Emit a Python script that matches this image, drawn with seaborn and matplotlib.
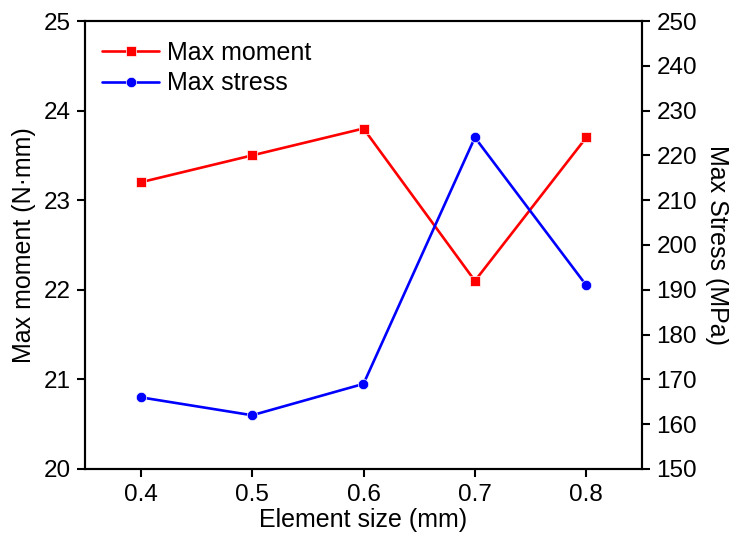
import matplotlib
matplotlib.use("Agg")
import matplotlib.pyplot as plt
import seaborn as sns
import pandas as pd

element_size = [0.4, 0.5, 0.6, 0.7, 0.8]
max_moment = [23.2, 23.5, 23.8, 22.1, 23.7]
max_stress = [166, 162, 169, 224, 191]

sns.set_theme(style="ticks")
plt.rcParams['font.family'] = ['Liberation Sans', 'DejaVu Sans']
plt.rcParams['text.color'] = 'black'
plt.rcParams['axes.labelcolor'] = 'black'

df = pd.DataFrame({"size": element_size, "moment": max_moment, "stress": max_stress})

fig = plt.figure(figsize=(7.29, 5.42), dpi=100)
L, R, T, B = 85, 642, 21, 469
ax = fig.add_axes([L/729, 1 - B/542, (R-L)/729, (B-T)/542])
ax2 = ax.twinx()

sns.lineplot(data=df, x="size", y="moment", ax=ax, color="#ff0000", marker="s",
             markersize=7, markeredgecolor="white", markeredgewidth=0.5, linewidth=1.9,
             label="Max moment", legend=False)
sns.lineplot(data=df, x="size", y="stress", ax=ax2, color="#0000ff", marker="o",
             markersize=7.5, markeredgecolor="white", markeredgewidth=0.5, linewidth=1.9,
             label="Max stress", legend=False)

ax.set_xlim(0.35, 0.85)
ax.set_ylim(20, 25)
ax2.set_ylim(150, 250)
ax.set_xticks(element_size)
ax.set_xticklabels(["0.4", "0.5", "0.6", "0.7", "0.8"])
ax.set_yticks([20, 21, 22, 23, 24, 25])
ax2.set_yticks(list(range(150, 251, 10)))

ax.set_xlabel("Element size (mm)", fontsize=18, labelpad=2)
ax.set_ylabel("Max moment (N·mm)", fontsize=18, labelpad=5)
ax2.set_ylabel("Max Stress (MPa)", fontsize=18, rotation=270, labelpad=23)

for a in (ax, ax2):
    a.tick_params(labelsize=17.5, width=1.5, length=5.5, direction="out", colors="black", pad=5)
    for s in a.spines.values():
        s.set_linewidth(1.5)
        s.set_color("black")

h1, l1 = ax.get_legend_handles_labels()
h2, l2 = ax2.get_legend_handles_labels()
ax.legend(h1 + h2, l1 + l2, loc="upper left", bbox_to_anchor=(0.0305, 0.955),
          frameon=False, fontsize=18, borderaxespad=0, borderpad=0,
          handlelength=2.3, handletextpad=0.3, labelspacing=0.25)

fig.savefig("out.png", dpi=100)
